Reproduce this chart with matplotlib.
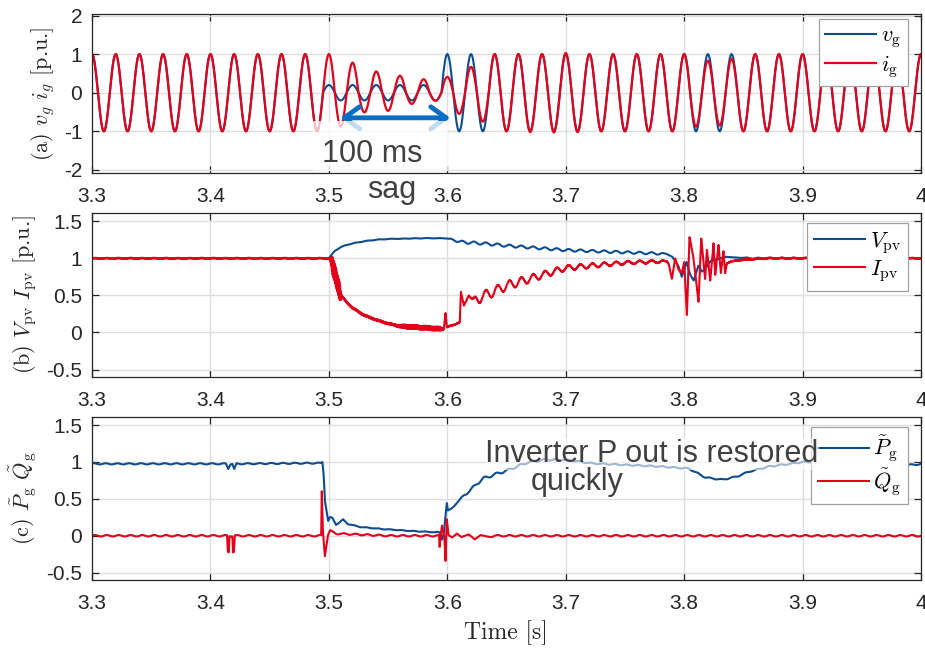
import numpy as np
import matplotlib.pyplot as plt
from matplotlib.patches import Rectangle

plt.rcParams['font.family'] = ['Liberation Sans', 'DejaVu Sans']
plt.rcParams['mathtext.fontset'] = 'cm'
plt.rcParams['axes.unicode_minus'] = False

BLUE = '#0c4d8f'
RED = '#e2001a'
GRAY = '#404040'

# ---- (a) grid voltage / current: peak magnitude of every half cycle (50 Hz), 3.30 .. 4.00 s
F_GRID = 50.0
v_peaks = [1.0] * 20 + [0.2] * 10 + [1.0] * 41
i_peaks = ([1.0] * 21 +
           [0.88, 0.78, 0.51, 0.55, 0.47, 0.44, 0.29, 0.35, 0.21, 0.41,
            0.55, 0.67, 0.75] +
           [1.0, 1.0, 1.0, 1.02, 1.0, 1.03, 1.03, 1.02, 1.0, 1.0,
            1.0, 1.0, 1.0, 1.0, 1.0, 1.0, 1.0, 0.88, 0.83, 0.85, 0.88] +
           [1.0] * 16)

# ---- (b) PV voltage / current (trend points + 100 Hz ripple amplitude)
v_pv_t = [3.30, 3.50, 3.502, 3.505, 3.51, 3.515, 3.52, 3.53, 3.54, 3.55, 3.58, 3.598,
          3.605, 3.611, 3.63, 3.65, 3.70, 3.75, 3.785, 3.79, 3.795, 3.798, 3.802, 3.805,
          3.808, 3.812, 3.815, 3.818, 3.822, 3.828, 3.835, 3.845, 3.86, 4.0]
v_pv = [1.0, 1.0, 1.04, 1.1, 1.15, 1.18, 1.2, 1.23, 1.25, 1.26, 1.27, 1.27,
        1.25, 1.22, 1.2, 1.17, 1.11, 1.08, 1.06, 1.02, 0.9, 0.75, 0.95, 0.78,
        0.7, 0.9, 0.82, 0.86, 0.96, 0.99, 1.02, 1.01, 1.0, 1.0]
v_rip_t = [3.30, 3.60, 3.61, 3.78, 3.785, 3.84, 3.86, 4.0]
v_rip = [0.003, 0.003, 0.018, 0.015, 0.0, 0.0, 0.008, 0.003]

i_pv_t = [3.30, 3.50, 3.502, 3.505, 3.508, 3.51, 3.515, 3.52, 3.53, 3.54, 3.55, 3.56,
          3.58, 3.597, 3.5985, 3.5995, 3.601, 3.605, 3.6105, 3.6115, 3.614, 3.618, 3.622,
          3.65, 3.70, 3.75, 3.7854, 3.787, 3.7896, 3.7924, 3.7952, 3.798, 3.800, 3.8023,
          3.8045, 3.8079, 3.8121, 3.8144, 3.8177, 3.8192, 3.822, 3.8248, 3.8262, 3.829,
          3.831, 3.8332, 3.8346, 3.836, 3.84, 3.85, 3.87, 4.0]
i_pv = [1.0, 1.0, 0.95, 0.8, 0.62, 0.5, 0.41, 0.33, 0.23, 0.17, 0.12, 0.085,
        0.065, 0.045, 0.27, 0.07, 0.08, 0.1, 0.14, 0.54, 0.36, 0.5, 0.43,
        0.63, 0.87, 0.94, 0.96, 0.92, 0.72, 1.0, 0.85, 0.8, 0.95, 0.23,
        1.29, 1.0, 0.41, 1.27, 0.72, 1.12, 0.7, 1.2, 0.77, 1.18,
        0.8, 1.1, 0.8, 0.93, 0.96, 0.98, 1.0, 1.0]
i_rip_t = [3.30, 3.62, 3.625, 3.65, 3.70, 3.75, 3.78, 3.785, 3.84, 3.86, 4.0]
i_rip = [0.003, 0.003, 0.07, 0.06, 0.035, 0.022, 0.018, 0.0, 0.0, 0.005, 0.003]
i_noise_t = [3.30, 3.501, 3.503, 3.509, 3.511, 3.555, 3.565, 3.594, 3.597, 4.0]
i_noise = [0.004, 0.004, 0.12, 0.12, 0.01, 0.01, 0.025, 0.025, 0.004, 0.004]

# ---- (c) filtered active / reactive power
p_t = [3.30, 3.413, 3.415, 3.417, 3.4185, 3.42, 3.422, 3.4935, 3.4945, 3.4955, 3.4966,
       3.4994, 3.501, 3.503, 3.506, 3.509, 3.512, 3.516, 3.526, 3.546, 3.574, 3.594,
       3.5955, 3.597, 3.5996, 3.6005, 3.603, 3.6056, 3.611, 3.614, 3.62, 3.625, 3.631,
       3.64, 3.6475, 3.656, 3.667, 3.682, 3.70, 3.723, 3.751, 3.779, 3.804, 3.818,
       3.832, 3.844, 3.855, 3.872, 3.892, 3.90, 3.95, 3.99, 4.0]
p_g = [0.975, 0.975, 0.91, 0.975, 0.975, 0.9, 0.975, 0.985, 1.0, 0.85, 0.48,
       0.2, 0.25, 0.24, 0.15, 0.18, 0.22, 0.16, 0.12, 0.09, 0.06, 0.045,
       -0.05, 0.04, 0.44, 0.34, 0.36, 0.4, 0.5, 0.55, 0.62, 0.71, 0.78,
       0.83, 0.87, 0.92, 0.99, 1.03, 1.03, 0.98, 0.96, 0.94, 0.91, 0.79,
       0.76, 0.8, 0.87, 0.94, 0.98, 1.0, 1.0, 0.96, 0.97]
p_rip_t = [3.30, 3.49, 3.495, 3.61, 3.62, 3.70, 4.0]
p_rip = [0.008, 0.008, 0.004, 0.004, 0.02, 0.008, 0.008]

q_t = [3.30, 3.4140, 3.4147, 3.4155, 3.416, 3.4185, 3.419, 3.4198, 3.4205, 3.4935,
       3.494, 3.4948, 3.4966, 3.4985, 3.4994, 3.501, 3.503, 3.506, 3.52, 3.55, 3.593,
       3.5935, 3.5945, 3.5955, 3.5975, 3.5985, 3.5995, 3.601, 3.604, 3.608, 3.612,
       3.618, 3.623, 3.628, 3.633, 3.64, 4.0]
q_g = [0.0, 0.0, -0.22, -0.22, 0.0, 0.0, -0.22, -0.22, 0.0, 0.0,
       0.6, 0.1, -0.27, -0.05, 0.02, 0.07, 0.05, 0.03, 0.02, 0.0, 0.0,
       -0.16, 0.02, 0.14, 0.0, -0.34, 0.23, 0.0, -0.03, 0.04, -0.03,
       0.03, -0.06, 0.02, -0.02, 0.0, 0.0]
q_rip = 0.01

x_ticks = [3.3, 3.4, 3.5, 3.6, 3.7, 3.8, 3.9, 4.0]
x_ticklabels = ['3.3', '3.4', '3.5', '3.6', '3.7', '3.8', '3.9', '4']

# ---- signals
t = np.linspace(3.3, 4.0, 20001)
k = np.clip(np.round((t - 3.3) / 0.01).astype(int), 0, 70)
carrier = np.cos(2 * np.pi * F_GRID * (t - 3.3))
v_g = np.array(v_peaks)[k] * carrier
i_g = np.array(i_peaks)[k] * carrier

rip100 = np.sin(2 * np.pi * 100 * t)
hf = np.sin(2 * np.pi * 1500 * t)
V = np.interp(t, v_pv_t, v_pv) + np.interp(t, v_rip_t, v_rip) * rip100
I = (np.interp(t, i_pv_t, i_pv) + np.interp(t, i_rip_t, i_rip) * rip100
     + np.interp(t, i_noise_t, i_noise) * hf)
P = np.interp(t, p_t, p_g) + np.interp(t, p_rip_t, p_rip) * np.sin(2 * np.pi * 100 * t + 0.7)
Q = np.interp(t, q_t, q_g) + q_rip * np.sin(2 * np.pi * 100 * t)

fig = plt.figure(figsize=(9.25, 6.55), dpi=100)
ax1 = fig.add_axes([0.0995, 0.7359, 0.8962, 0.2427])
ax2 = fig.add_axes([0.0995, 0.4244, 0.8962, 0.2504])
ax3 = fig.add_axes([0.0995, 0.1145, 0.8962, 0.2489])

ax1.plot(t, v_g, color=BLUE, lw=1.5, label=r'$v_{\rm g}$')
ax1.plot(t, i_g, color=RED, lw=1.6, label=r'$i_{\rm g}$')
ax2.plot(t, V, color=BLUE, lw=1.5, label=r'$V_{\rm pv}$')
ax2.plot(t, I, color=RED, lw=1.5, label=r'$I_{\rm pv}$')
ax3.plot(t, P, color=BLUE, lw=1.5, label=r'$\tilde{P}_{\rm g}$')
ax3.plot(t, Q, color=RED, lw=1.5, label=r'$\tilde{Q}_{\rm g}$')

ylabels = [r'(a) $v_g\ i_g$ [p.u.]',
           r'(b) $V_{\rm pv}\ I_{\rm pv}$ [p.u.]',
           r'(c) $\tilde{P}_{\rm g}\ \tilde{Q}_{\rm g}$']
label_x = [-0.059, -0.081, -0.083]
leg_tops = [0.969, 0.939, 0.939]

for ax, lab, lx, top in zip([ax1, ax2, ax3], ylabels, label_x, leg_tops):
    ax.set_xlim(3.3, 4.0)
    ax.set_xticks(x_ticks)
    ax.set_xticklabels(x_ticklabels)
    ax.grid(True, color='#dedede', lw=1)
    ax.set_axisbelow(True)
    ax.tick_params(direction='in', top=True, right=True, length=5, width=0.9,
                   labelsize=15, labelcolor='#262626', color='#262626')
    ax.tick_params(axis='x', pad=10)
    ax.tick_params(axis='y', pad=7)
    for s in ax.spines.values():
        s.set_color('#262626')
        s.set_linewidth(0.9)
    ax.set_ylabel(lab, fontsize=16, color='#262626', va='center', family='cmr10')
    ax.yaxis.set_label_coords(lx, 0.5)
    leg = ax.legend(loc='upper right', bbox_to_anchor=(0.984, top), borderaxespad=0,
                    fontsize=16, handlelength=2.3, handletextpad=0.2, labelspacing=0.1,
                    borderpad=0.3, fancybox=False, framealpha=1)
    leg.get_frame().set_edgecolor('#a0a0a0')
    leg.get_frame().set_linewidth(0.9)

ax1.set_ylim(-2.08, 2.04)
ax1.set_yticks([-2, -1, 0, 1, 2])
for ax in (ax2, ax3):
    ax.set_ylim(-0.6, 1.61)
    ax.set_yticks([-0.5, 0, 0.5, 1, 1.5])
    ax.set_yticklabels(['-0.5', '0', '0.5', '1', '1.5'])

# sag annotation
ax1.annotate('', xy=(3.5095, -0.65), xytext=(3.6025, -0.65),
             arrowprops=dict(arrowstyle='<->,head_length=0.5,head_width=0.36',
                             color='#0a6fc2', lw=3.5, mutation_scale=22,
                             shrinkA=0, shrinkB=0))
fig.patches.append(Rectangle((313 / 925, 1 - 171 / 655), 135 / 925, 50 / 655,
                             transform=fig.transFigure, facecolor='white',
                             alpha=0.75, edgecolor='none', zorder=1))
fig.text(372 / 925, 1 - 162 / 655, '100 ms', fontsize=22, color=GRAY,
         ha='center', va='baseline', zorder=3)
fig.text(392 / 925, 1 - 198 / 655, 'sag', fontsize=22, color=GRAY,
         ha='center', va='baseline', zorder=3)

box = dict(facecolor='white', alpha=0.6, edgecolor='none', pad=0.5)
fig.text(652 / 925, 1 - 462 / 655, 'Inverter P out is restored', fontsize=22,
         color=GRAY, ha='center', va='baseline', bbox=box, zorder=3)
fig.text(577 / 925, 1 - 490 / 655, 'quickly', fontsize=22, color=GRAY,
         ha='center', va='baseline', bbox=box, zorder=3)

fig.text(506 / 925, 1 - 633 / 655, 'Time [s]', fontsize=17, family='cmr10',
         color='#262626', ha='center', va='center')

fig.savefig('out.png', dpi=100)
